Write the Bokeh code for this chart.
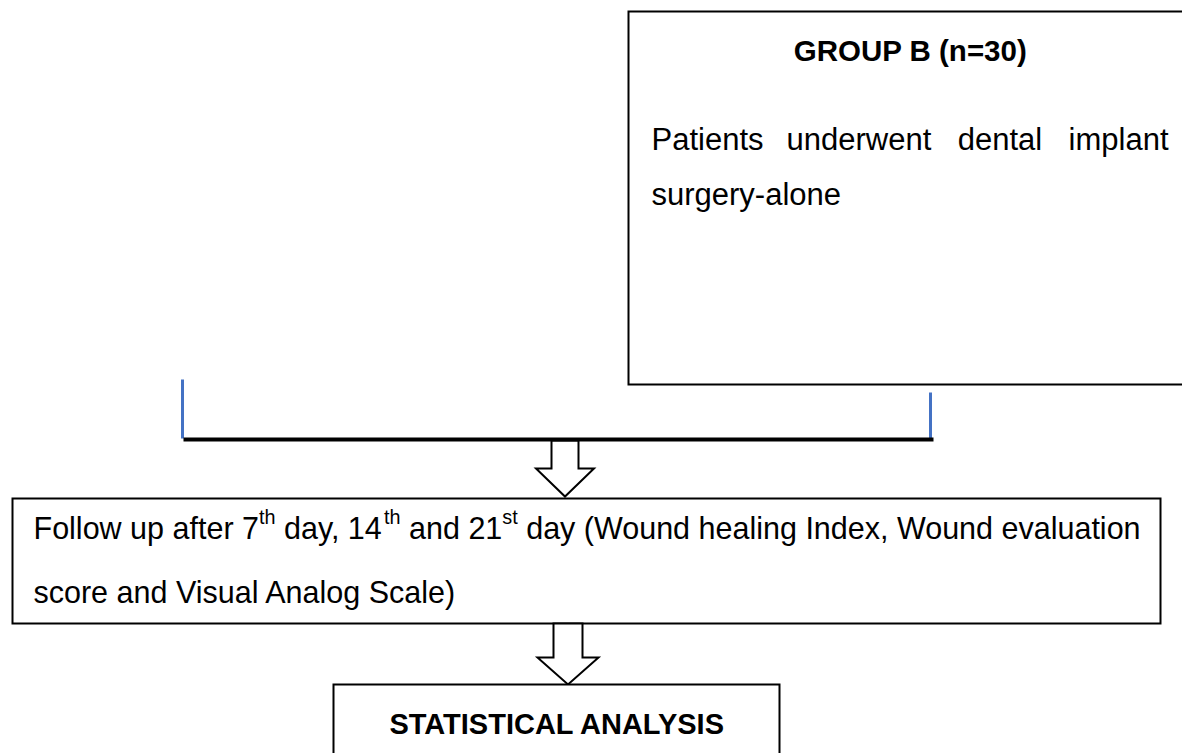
from bokeh.plotting import figure
from bokeh.models import Range1d
from bokeh.embed import file_html
from bokeh.resources import INLINE
from bokeh.core.properties import value

# ---------------- content ----------------
group_title = "GROUP B (n=30)"
group_line1_words = ["Patients", "underwent", "dental", "implant"]
group_line2 = "surgery-alone"
followup_segments = [("Follow up after 7", False), ("th", True), (" day, 14", False),
                     ("th", True), (" and 21", False), ("st", True),
                     (" day (Wound healing Index, Wound evaluation", False)]
followup_line2 = "score and Visual Analog Scale)"
stats_title = "STATISTICAL ANALYSIS"

# ---------------- layout (page pixels) ----------------
W, H = 1182, 753
FONT = "Liberation Sans"
BLUE = "#4472C4"

# Arial / Liberation Sans advance widths (1/1000 em)
AW = {' ': 278, '(': 333, ')': 333, ',': 278, '-': 333, '=': 584,
      'A': 667, 'F': 611, 'I': 278, 'S': 667, 'V': 667, 'W': 944,
      'a': 556, 'b': 556, 'c': 500, 'd': 556, 'e': 556, 'f': 278, 'g': 556,
      'h': 556, 'i': 222, 'l': 222, 'n': 556, 'o': 556, 'p': 556, 'r': 333,
      's': 500, 't': 278, 'u': 556, 'v': 500, 'w': 722, 'x': 500, 'y': 500,
      'm': 833, 'k': 500}


def tw(s, size):
    return sum(AW.get(c, 556) for c in s) / 1000.0 * size


p = figure(width=W, height=H, output_backend="svg", toolbar_location=None,
           x_range=Range1d(0, W), y_range=Range1d(H, 0),
           x_axis_type=None, y_axis_type=None, min_border=0)
p.xgrid.visible = False
p.ygrid.visible = False
p.outline_line_color = None
p.background_fill_color = "white"
p.border_fill_color = "white"


def box(l, r, t, b):
    p.quad(left=[l], right=[r], top=[t], bottom=[b], fill_color="white",
           line_color="black", line_width=2, line_join="miter")


def arrow(cx, sw, hw, y0, yh, yt):
    xs = [cx - sw / 2, cx + sw / 2, cx + sw / 2, cx + hw / 2, cx, cx - hw / 2, cx - sw / 2, cx - sw / 2]
    ys = [y0, y0, yh, yh, yt, yh, yh, y0]
    p.patch(xs, ys, fill_color="white", line_color="black", line_width=2, line_join="miter")


def txt(x, y, s, size, bold=False, align="left"):
    p.text(x=[x], y=[y], text=[s], text_font=value(FONT), text_font_size=f"{size}px",
           text_font_style="bold" if bold else "normal", text_color="black",
           text_align=align, text_baseline="alphabetic")


# Group B box
box(628, 1220, 11, 384)
txt(910, 50, group_title, 29.5, bold=True, align="center")
GS = 31
gl, gr = 651, 1168
widths = [tw(w_, GS) for w_ in group_line1_words]
gap = (gr - gl - sum(widths)) / (len(widths) - 1)
x = gl
for w_, wd in zip(group_line1_words, widths):
    txt(x, 139, w_, GS)
    x += wd + gap
txt(gl, 194, group_line2, GS)

# connector (blue verticals + black horizontal)
p.line([182, 182], [379, 438], line_color=BLUE, line_width=3)
p.line([930, 930], [392, 438], line_color=BLUE, line_width=3)

# arrow 1
arrow(564.5, 27, 58, 440, 468, 496)
p.line([183, 933], [439, 439], line_color="black", line_width=4)

# follow-up box
box(12, 1160, 498, 623)
FS = 30.5
SUP = 0.65
x = 33
for seg, sup in followup_segments:
    size = FS * SUP if sup else FS
    lead = len(seg) - len(seg.lstrip(" "))
    x += tw(" " * lead, size)
    seg = seg.lstrip(" ")
    txt(x, 527 - (FS * 0.36 if sup else 0), seg, size)
    x += tw(seg, size)
txt(33, 591, followup_line2, FS)

# arrow 2
arrow(567.5, 29, 61, 623, 657, 684)

# statistical analysis box
box(333, 779, 684, 800)
txt(557, 723, stats_title, 29, bold=True, align="center")

open("out.html", "w").write(file_html(p, INLINE))
